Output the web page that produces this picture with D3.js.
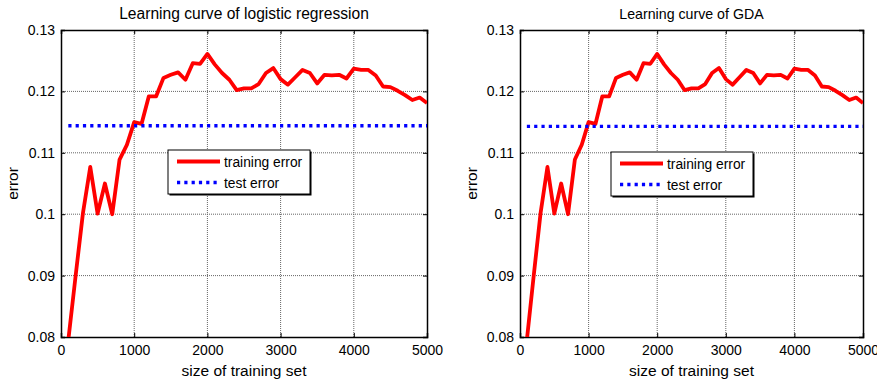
<!DOCTYPE html>
<html>
<head>
<meta charset="utf-8">
<script src="https://cdn.jsdelivr.net/npm/d3@7"></script>
<style>
  body { margin: 0; background: #fff; }
  text { font-family: Arial, "Liberation Sans", sans-serif; fill: #000; }
</style>
</head>
<body>
<div id="chart"></div>
<script>
// training set sizes
var trainSizes = [100, 200, 300, 400, 500, 600, 700, 800, 900, 1000,
  1100, 1200, 1300, 1400, 1500, 1600, 1700, 1800, 1900, 2000,
  2100, 2200, 2300, 2400, 2500, 2600, 2700, 2800, 2900, 3000,
  3100, 3200, 3300, 3400, 3500, 3600, 3700, 3800, 3900, 4000,
  4100, 4200, 4300, 4400, 4500, 4600, 4700, 4800, 4900, 5000];

// training error, logistic regression
var logregTrain = [0.0795, 0.090, 0.1002, 0.1077, 0.1001, 0.1050, 0.1000, 0.1089, 0.1113, 0.1150,
  0.1147, 0.1192, 0.1192, 0.1222, 0.1227, 0.1231, 0.1219, 0.1246, 0.1245, 0.1261,
  0.1244, 0.1230, 0.1219, 0.1202, 0.1205, 0.1205, 0.1212, 0.1230, 0.1238, 0.1220,
  0.1211, 0.1223, 0.1235, 0.1230, 0.1213, 0.1227, 0.1226, 0.1227, 0.1221, 0.1237,
  0.1235, 0.1235, 0.1226, 0.1208, 0.1207, 0.1201, 0.1194, 0.1186, 0.1190, 0.1181];
var logregTest = 0.1144;

// training error, GDA
var gdaTrain = [0.0795, 0.090, 0.1002, 0.1077, 0.1001, 0.1050, 0.1000, 0.1089, 0.1113, 0.1150,
  0.1147, 0.1192, 0.1192, 0.1222, 0.1227, 0.1231, 0.1219, 0.1246, 0.1245, 0.1261,
  0.1244, 0.1230, 0.1219, 0.1202, 0.1205, 0.1205, 0.1212, 0.1230, 0.1238, 0.1220,
  0.1211, 0.1223, 0.1235, 0.1230, 0.1213, 0.1227, 0.1226, 0.1227, 0.1221, 0.1237,
  0.1235, 0.1235, 0.1226, 0.1208, 0.1207, 0.1201, 0.1194, 0.1186, 0.1190, 0.1181];
var gdaTest = 0.1143;

var xTicks = [0, 1000, 2000, 3000, 4000, 5000];
var yTicks = [0.08, 0.09, 0.1, 0.11, 0.12, 0.13];
var legendLabels = ["training error", "test error"];

var svg = d3.select("#chart")
  .append("svg")
  .attr("width", 877)
  .attr("height", 382);

function drawPanel(p) {
  var x = d3.scaleLinear().domain([0, 5000]).range([p.left, p.right]);
  var y = d3.scaleLinear().domain([0.08, 0.13]).range([p.bottom, p.top]);
  var g = svg.append("g");

  // grid (matlab style dotted)
  g.selectAll(".gx").data(xTicks.slice(1, -1)).enter().append("line")
    .attr("x1", d => x(d)).attr("x2", d => x(d))
    .attr("y1", p.top).attr("y2", p.bottom)
    .attr("stroke", "#666").attr("stroke-width", 1).attr("stroke-dasharray", "1,1");
  g.selectAll(".gy").data(yTicks.slice(1, -1)).enter().append("line")
    .attr("x1", p.left).attr("x2", p.right)
    .attr("y1", d => y(d)).attr("y2", d => y(d))
    .attr("stroke", "#666").attr("stroke-width", 1).attr("stroke-dasharray", "1,1");

  // axes, ticks pointing inward
  g.append("g").attr("transform", "translate(0," + p.bottom + ")")
    .call(d3.axisBottom(x).tickValues(xTicks).tickSize(-4).tickPadding(8).tickFormat(d3.format("d")));
  g.append("g").attr("transform", "translate(0," + p.top + ")")
    .call(d3.axisTop(x).tickValues(xTicks).tickSize(-4).tickFormat(""));
  g.append("g").attr("transform", "translate(" + p.left + ",0)")
    .call(d3.axisLeft(y).tickValues(yTicks).tickSize(-4).tickPadding(6).tickFormat(d => d3.format("")(+d.toFixed(2))));
  g.append("g").attr("transform", "translate(" + p.right + ",0)")
    .call(d3.axisRight(y).tickValues(yTicks).tickSize(-4).tickFormat(""));
  g.selectAll(".domain").attr("stroke", "#000").attr("stroke-width", 1.5);
  g.selectAll(".tick line").attr("stroke", "#000");
  g.selectAll(".tick text").style("font-size", "14px").style("font-family", "Arial, 'Liberation Sans', sans-serif");

  // clip for lines
  var clipId = "clip" + p.left;
  svg.append("clipPath").attr("id", clipId).append("rect")
    .attr("x", p.left).attr("y", p.top).attr("width", p.right - p.left).attr("height", p.bottom - p.top);

  var pts = trainSizes.map((s, i) => ({ size: s, err: p.train[i] }));
  g.append("path")
    .datum(pts)
    .attr("clip-path", "url(#" + clipId + ")")
    .attr("fill", "none")
    .attr("stroke", "#ff0000")
    .attr("stroke-width", 3.8)
    .attr("stroke-linejoin", "round")
    .attr("d", d3.line().x(d => x(d.size)).y(d => y(d.err)));

  g.append("line")
    .attr("x1", x(trainSizes[0])).attr("x2", x(trainSizes[trainSizes.length - 1]))
    .attr("y1", y(p.test)).attr("y2", y(p.test))
    .attr("stroke", "#0000ff").attr("stroke-width", 3.4)
    .attr("stroke-dasharray", "3.2,4.1");

  // labels
  g.append("text")
    .attr("x", (p.left + p.right) / 2).attr("y", 19)
    .attr("text-anchor", "middle")
    .style("font-size", p.titleSize + "px")
    .text(p.title);
  g.append("text")
    .attr("x", (p.left + p.right) / 2).attr("y", 376)
    .attr("text-anchor", "middle")
    .style("font-size", "15.5px")
    .text("size of training set");
  g.append("text")
    .attr("transform", "translate(" + (p.left - 43) + "," + ((p.top + p.bottom) / 2) + ") rotate(-90)")
    .attr("text-anchor", "middle")
    .style("font-size", "15.5px")
    .text("error");

  // legend
  var lg = g.append("g").attr("transform", "translate(" + p.legX + "," + p.legY + ")");
  lg.append("rect").attr("x", 1.5).attr("y", 1.5).attr("width", 142).attr("height", 44)
    .attr("fill", "#000");
  lg.append("rect").attr("x", 0).attr("y", 0).attr("width", 142).attr("height", 44)
    .attr("fill", "#fff").attr("stroke", "#000").attr("stroke-width", 1);
  lg.selectAll(".li").data(legendLabels).enter().append("line")
    .attr("x1", 9).attr("x2", 52)
    .attr("y1", (d, i) => 11.5 + i * 21).attr("y2", (d, i) => 11.5 + i * 21)
    .attr("stroke", (d, i) => i === 0 ? "#ff0000" : "#0000ff")
    .attr("stroke-width", (d, i) => i === 0 ? 3.8 : 3.4)
    .attr("stroke-dasharray", (d, i) => i === 0 ? null : "3.2,4.1");
  lg.selectAll(".lt").data(legendLabels).enter().append("text")
    .attr("x", 56).attr("y", (d, i) => 16.5 + i * 21)
    .style("font-size", "13.8px")
    .text(d => d);
}

drawPanel({ left: 61, right: 427, top: 30, bottom: 337,
  title: "Learning curve of logistic regression", titleSize: 15.6,
  train: logregTrain, test: logregTest, legX: 168, legY: 150 });
drawPanel({ left: 520, right: 863, top: 30, bottom: 337,
  title: "Learning curve of GDA", titleSize: 14.2,
  train: gdaTrain, test: gdaTest, legX: 611, legY: 152 });
</script>
</body>
</html>
